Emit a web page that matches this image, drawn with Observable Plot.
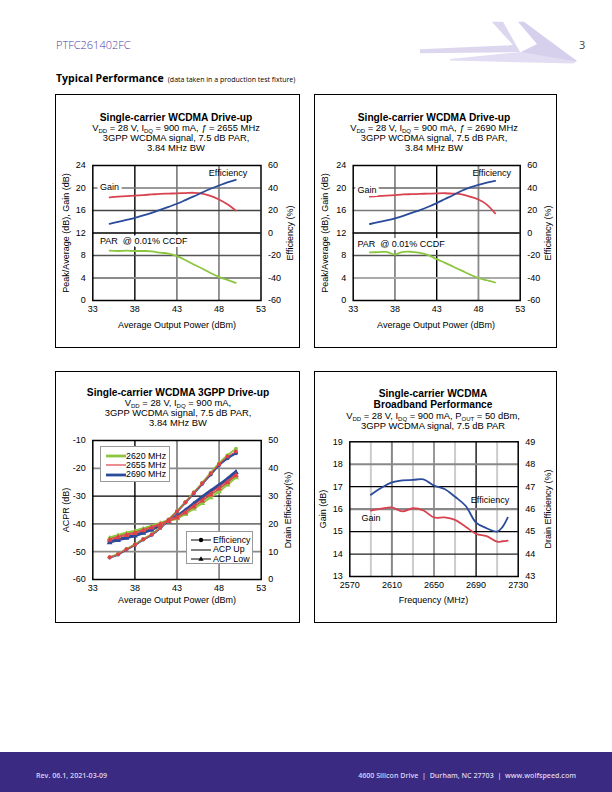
<!DOCTYPE html>
<html><head><meta charset="utf-8">
<script src="https://cdn.jsdelivr.net/npm/d3@7"></script>
<script src="https://cdn.jsdelivr.net/npm/@observablehq/plot@0.6"></script>
<style>
body{margin:0;background:#fff}
#page{position:relative;width:612px;height:792px;overflow:hidden;font-family:"Liberation Sans",Arial,sans-serif;color:#000;background:#fff}
.panel{position:absolute;border:1px solid #000;box-sizing:border-box}
.ttl{position:absolute;text-align:center;font-size:9.4px;line-height:10px;white-space:nowrap;transform:translateX(-50%)}
.ttl b{font-size:10.2px}
.ttl sub{font-size:6px;vertical-align:-1.5px;line-height:0}
.lab{position:absolute;font-size:9px;white-space:nowrap;transform:translate(-50%,-50%)}
.rot{transform:translate(-50%,-50%) rotate(-90deg)}
.leg{position:absolute;border:1px solid #999;background:#fff;font-size:8.8px;box-sizing:border-box}
.leg div{position:absolute;white-space:nowrap}
svg.chart{position:absolute}
</style>
</head><body>
<div id="page"></div>
<script>
// ---------- DATA ----------
// Chart 1: Drive-up, f = 2655 MHz
const c1Pout = [35,36,37,38,39,40,41,42,43,44,45,46,47,48,49,50];
const c1Gain = [18.35,18.45,18.55,18.65,18.75,18.85,18.95,19.0,19.05,19.1,19.15,19.0,18.6,17.95,17.1,16.0];
const c1Eff  = [8.2,9.8,11.6,13.5,15.6,17.9,20.5,23.2,26.0,29.2,32.5,36.0,39.3,42.2,45.0,47.3];
const c1Par  = [8.85,8.8,8.85,8.8,8.8,8.75,8.5,8.35,7.9,7.2,6.4,5.7,4.9,4.2,3.65,3.15];

// Chart 2: Drive-up, f = 2690 MHz
const c2Pout = [35,36,37,38,39,40,41,42,43,44,45,46,47,48,49,50];
const c2Gain = [18.45,18.55,18.65,18.75,18.85,18.9,18.95,19.0,19.05,19.07,19.0,18.85,18.45,17.95,17.05,15.5];
const c2Eff  = [8.0,9.6,11.2,13.0,15.2,17.9,20.4,23.3,26.6,30.2,33.8,37.6,40.5,42.8,44.8,46.3];
const c2ParPout = [35,36,37,38,38.6,39.5,40,41,42,43,44,45,46,47,48,49,50];
const c2Par  = [8.55,8.6,8.65,8.15,8.5,8.7,8.65,8.45,8.05,7.35,6.7,6.0,5.3,4.6,4.0,3.6,3.2];

// Chart 3: 3GPP drive-up, ACPR & drain efficiency
const c3Pout = [35,36,37,38,39,40,41,42,43,44,45,46,47,48,49,50];
const c3Freqs = ["2620 MHz","2655 MHz","2690 MHz"];
const c3Eff2620 = [8.0,9.2,11.0,12.6,14.6,16.3,18.7,21.6,24.6,27.9,31.4,34.8,38.4,41.9,44.7,47.0];
const c3Eff2655 = [8.0,9.1,10.9,12.5,14.5,16.2,18.6,21.5,24.5,27.8,31.2,34.6,38.1,41.5,44.2,46.0];
const c3Eff2690 = [7.9,9.0,10.8,12.4,14.4,16.1,18.5,21.4,24.4,27.7,31.0,34.4,37.8,41.2,43.6,45.4];
const c3AcpUp2620 = [-44.8,-43.9,-43.1,-42.4,-41.5,-40.6,-39.6,-38.6,-37.6,-35.9,-33.9,-31.8,-29.7,-27.6,-25.1,-22.6];
const c3AcpUp2655 = [-45.4,-44.5,-43.7,-43.0,-42.0,-41.0,-39.9,-38.6,-37.3,-35.4,-33.2,-31.0,-28.8,-26.7,-24.4,-22.0];
const c3AcpUp2690 = [-46.3,-45.5,-44.7,-43.9,-42.9,-41.8,-40.3,-38.7,-37.0,-34.8,-32.4,-30.1,-27.9,-25.8,-23.5,-21.0];
const c3AcpLow2620 = [-45.2,-44.3,-43.5,-42.8,-41.9,-41.0,-40.0,-39.0,-38.1,-36.5,-34.6,-32.6,-30.5,-28.4,-25.9,-23.3];
const c3AcpLow2655 = [-45.8,-44.9,-44.1,-43.4,-42.4,-41.4,-40.3,-39.1,-37.8,-36.0,-33.8,-31.7,-29.5,-27.4,-25.1,-22.6];
const c3AcpLow2690 = [-46.7,-45.9,-45.1,-44.3,-43.3,-42.2,-40.7,-39.1,-37.4,-35.3,-32.9,-30.7,-28.5,-26.4,-24.1,-21.5];

// Chart 4: broadband performance
const c4Freq = [2590,2600,2610,2620,2630,2640,2650,2660,2670,2680,2690,2700,2710,2715,2720];
const c4Gain = [15.94,16.02,16.08,15.9,16.04,15.94,15.63,15.63,15.52,15.22,14.9,14.8,14.55,14.57,14.6];
const c4Eff  = [46.64,46.95,47.19,47.28,47.3,47.33,47.05,46.9,46.55,46.15,45.4,45.15,45.0,45.2,45.62];

// Tick values
const driveTicksX = [33,38,43,48,53];
const driveTicksY = [0,4,8,12,16,20,24];
const acprTicksY = [-60,-50,-40,-30,-20,-10];
const bbTicksX = [2570,2610,2650,2690,2730];
const bbTicksY = [13,14,15,16,17,18,19];

// ---------- PAGE ----------
const page = document.getElementById("page");
function el(html){ const t=document.createElement("template"); t.innerHTML=html.trim(); const n=t.content.firstChild; page.appendChild(n); return n; }

// header
el(`<svg style="position:absolute;left:0;top:0" width="612" height="90">
  <polygon points="491.7,21.7 503,21.7 520,52 420,53.3 420,49.3 513,45" fill="#dcd7ef"/>
  <polygon points="518,21.7 524,21.7 577,61 573,62.5 520,52.5 537,44" fill="#d6d0ec"/>
  <polygon points="520,52 577,61.5 573,63.5 450,60.5 450,59" fill="#e2ddf2"/>
</svg>`);
el(`<div style="position:absolute;left:56px;top:38px;line-height:14px;font-family:'Open Sans',sans-serif;font-size:11px;color:#4b3aa5;font-weight:300">PTFC261402FC</div>`);
el(`<div style="position:absolute;left:579px;top:38px;line-height:14px;font-family:'Open Sans',sans-serif;font-size:11px;color:#444">3</div>`);
el(`<div style="position:absolute;left:56px;top:70px;line-height:13px;font-family:'Open Sans',sans-serif;white-space:nowrap"><span style="font-weight:700;font-size:10.5px">Typical Performance</span> <span style="font-size:7px">(data taken in a production test fixture)</span></div>`);

// footer
el(`<div style="position:absolute;left:0;top:752px;width:612px;height:40px;background:#3b2a82"></div>`);
el(`<div style="position:absolute;left:36px;top:770px;line-height:10px;font-family:'Open Sans',sans-serif;font-size:7.1px;font-weight:600;color:#d8d4ec">Rev. 06.1, 2021-03-09</div>`);
el(`<div style="position:absolute;right:36px;top:770px;line-height:10px;font-family:'Open Sans',sans-serif;font-size:7.1px;font-weight:600;color:#d8d4ec;white-space:nowrap">4600 Silicon Drive &nbsp;|&nbsp; Durham, NC 27703 &nbsp;|&nbsp; www.wolfspeed.com</div>`);

// panels
el(`<div class="panel" style="left:55px;top:94px;width:245px;height:254px"></div>`);
el(`<div class="panel" style="left:314px;top:94px;width:243px;height:254px"></div>`);
el(`<div class="panel" style="left:55px;top:371px;width:245px;height:252px"></div>`);
el(`<div class="panel" style="left:314px;top:371px;width:243px;height:252px"></div>`);

// titles
el(`<div class="ttl" style="left:176px;top:113px"><b>Single-carrier WCDMA Drive-up</b><br>V<sub>DD</sub> = 28 V, I<sub>DQ</sub> = 900 mA, <i>ƒ</i> = 2655 MHz<br>3GPP WCDMA signal, 7.5 dB PAR,<br>3.84 MHz BW</div>`);
el(`<div class="ttl" style="left:434px;top:113px"><b>Single-carrier WCDMA Drive-up</b><br>V<sub>DD</sub> = 28 V, I<sub>DQ</sub> = 900 mA, <i>ƒ</i> = 2690 MHz<br>3GPP WCDMA signal, 7.5 dB PAR,<br>3.84 MHz BW</div>`);
el(`<div class="ttl" style="left:178px;top:388px"><b>Single-carrier WCDMA 3GPP Drive-up</b><br>V<sub>DD</sub> = 28 V, I<sub>DQ</sub> = 900 mA,<br>3GPP WCDMA signal, 7.5 dB PAR,<br>3.84 MHz BW</div>`);
el(`<div class="ttl" style="left:433px;top:389px;line-height:10.8px"><b>Single-carrier WCDMA<br>Broadband Performance</b><br>V<sub>DD</sub> = 28 V, I<sub>DQ</sub> = 900 mA, P<sub>OUT</sub> = 50 dBm,<br>3GPP WCDMA signal, 7.5 dB PAR</div>`);

// axis labels
function lab(text,x,y,rot){ el(`<div class="lab${rot?" rot":""}" style="left:${x}px;top:${y}px">${text}</div>`); }
lab("Average Output Power (dBm)",177,324.5);
lab("Peak/Average (dB), Gain (dB)",65.7,232.5,true);
lab("Efficiency (%)",290,232.5,true);
lab("Average Output Power (dBm)",436,324.5);
lab("Peak/Average (dB), Gain (dB)",325.3,232.5,true);
lab("Efficiency (%)",547.7,232.5,true);
lab("Average Output Power (dBm)",177,600);
lab("ACPR (dB)",65.7,509.5,true);
lab("Drain Efficiency(%)",288,509.5,true);
lab("Frequency (MHz)",433.5,599.5);
lab("Gain (dB)",322.7,508.7,true);
lab("Drain Efficiency (%)",547.7,508.7,true);

// ---------- CHARTS ----------
const FONT = '"Liberation Sans", Arial, sans-serif';
function gridMarks(gx, gy){
  const m=[];
  for (const g of gx) m.push(Plot.ruleX([g[0]],{stroke:g[1],strokeWidth:g[2]}));
  for (const g of gy) m.push(Plot.ruleY([g[0]],{stroke:g[1],strokeWidth:g[2]}));
  return m;
}
function makeChart(cfg){
  const toY = d3.scaleLinear().domain(cfg.y2Domain).range(cfg.yDomain);
  const marks = [
    ...gridMarks(cfg.gridX, cfg.gridY),
    ...cfg.series(toY),
    Plot.frame({stroke:"#000", strokeWidth:1.5}),
    Plot.axisX({ticks:cfg.xTicks, tickSize:0, tickPadding:5, label:null, tickFormat:d=>String(d)}),
    Plot.axisY({anchor:"left", ticks:cfg.yTicks, tickSize:0, tickPadding:7, label:null, tickFormat:d=>String(d)}),
    Plot.axisY({anchor:"right", ticks:cfg.yTicks, tickSize:0, tickPadding:7, label:null, tickFormat:d=>String(Math.round(toY.invert(d)))})
  ];
  const svg = Plot.plot({
    width:cfg.w, height:cfg.h,
    marginLeft:cfg.m[0], marginRight:cfg.m[1], marginTop:cfg.m[2], marginBottom:cfg.m[3],
    x:{domain:cfg.xDomain}, y:{domain:cfg.yDomain},
    style:{fontFamily:FONT, fontSize:"9px", color:"#000", background:"transparent", overflow:"visible"},
    marks
  });
  svg.classList.add("chart");
  svg.style.left = cfg.left+"px"; svg.style.top = cfg.top+"px";
  page.appendChild(svg);
}
const RED="#d8434f", BLUE="#2a4b9b", GREEN="#8cc63f";
const note = (data, opts={}) => Plot.text(data,{x:"x",y:"y",text:"t",textAnchor:"start",fill:"#000",fontSize:9,stroke:"white",strokeWidth:opts.halo||0,paintOrder:"stroke"});

// Chart 1
const d1 = c1Pout.map((x,i)=>({x, gain:c1Gain[i], eff:c1Eff[i], par:c1Par[i]}));
makeChart({
  left:55, top:158, w:245, h:180, m:[37.3,39.5,7,38],
  xDomain:[33,53], yDomain:[0,24], y2Domain:[-60,60], xTicks:driveTicksX, yTicks:driveTicksY,
  gridX:[[38,"#000",1.4],[43,"#777",1.6],[48,"#8a8a8a",1.8]],
  gridY:[[4,"#8a8a8a",2],[8,"#555",1.6],[12,"#000",1.4],[16,"#444",1.5],[20,"#777",1.6]],
  series:(toY)=>[
    Plot.line(d1,{x:"x",y:"par",stroke:GREEN,strokeWidth:1.8,curve:"catmull-rom"}),
    Plot.line(d1,{x:"x",y:"gain",stroke:RED,strokeWidth:1.8,curve:"catmull-rom"}),
    Plot.line(d1,{x:"x",y:d=>toY(d.eff),stroke:BLUE,strokeWidth:1.8,curve:"catmull-rom"}),
    note([{x:33.85,y:20.1,t:"Gain"}],{halo:6}),
    note([{x:46.8,y:22.6,t:"Efficiency"}]),
    note([{x:33.85,y:10.5,t:"PAR\u00a0 @ 0.01% CCDF"}],{halo:6})
  ]
});

// Chart 2
const d2 = c2Pout.map((x,i)=>({x, gain:c2Gain[i], eff:c2Eff[i]}));
const d2p = c2ParPout.map((x,i)=>({x, par:c2Par[i]}));
makeChart({
  left:314, top:158, w:243, h:180, m:[38.7,37.3,7,38],
  xDomain:[33,53], yDomain:[0,24], y2Domain:[-60,60], xTicks:driveTicksX, yTicks:driveTicksY,
  gridX:[[38,"#777",1.6],[43,"#000",1.4],[48,"#8a8a8a",1.8]],
  gridY:[[4,"#aaa",2],[8,"#555",1.6],[12,"#000",1.4],[16,"#777",1.6],[20,"#666",1.6]],
  series:(toY)=>[
    Plot.line(d2p,{x:"x",y:"par",stroke:GREEN,strokeWidth:1.8,curve:"catmull-rom"}),
    Plot.line(d2,{x:"x",y:"gain",stroke:RED,strokeWidth:1.8,curve:"catmull-rom"}),
    Plot.line(d2,{x:"x",y:d=>toY(d.eff),stroke:BLUE,strokeWidth:1.8,curve:"catmull-rom"}),
    note([{x:33.5,y:19.7,t:"Gain"}],{halo:6}),
    note([{x:47.3,y:22.7,t:"Efficiency"}]),
    note([{x:33.5,y:10.05,t:"PAR\u00a0 @ 0.01% CCDF"}],{halo:6})
  ]
});

// Chart 3
const c3Sets = [
  {f:c3Freqs[2], eff:c3Eff2690, up:c3AcpUp2690, low:c3AcpLow2690, c:BLUE, w:2.2},
  {f:c3Freqs[0], eff:c3Eff2620, up:c3AcpUp2620, low:c3AcpLow2620, c:GREEN, w:1.8},
  {f:c3Freqs[1], eff:c3Eff2655, up:c3AcpUp2655, low:c3AcpLow2655, c:"#e0404a", w:1.1}
];
makeChart({
  left:55, top:433, w:245, h:180, m:[37.3,39.3,7,34],
  xDomain:[33,53], yDomain:[-60,-10], y2Domain:[0,50], xTicks:driveTicksX, yTicks:acprTicksY,
  gridX:[[38,"#000",1.4],[43,"#777",1.6],[48,"#8a8a8a",1.8]],
  gridY:[[-50,"#8a8a8a",1.8],[-40,"#777",1.6],[-30,"#000",1.4],[-20,"#8a8a8a",1.8]],
  series:(toY)=>c3Sets.flatMap(s=>{
    const d = c3Pout.map((x,i)=>({x, eff:toY(s.eff[i]), up:s.up[i], low:s.low[i]}));
    return [
      Plot.line(d,{x:"x",y:"eff",stroke:s.c,strokeWidth:s.w,curve:"catmull-rom"}),
      Plot.dot(d,{x:"x",y:"eff",fill:s.c,r:2}),
      Plot.line(d,{x:"x",y:"up",stroke:s.c,strokeWidth:s.w,curve:"catmull-rom"}),
      Plot.line(d,{x:"x",y:"low",stroke:s.c,strokeWidth:s.w,curve:"catmull-rom"}),
      Plot.dot(d,{x:"x",y:"low",fill:s.c,symbol:"triangle",r:2.2})
    ];
  })
});

// Chart 4
const d4 = c4Freq.map((x,i)=>({x, gain:c4Gain[i], eff:c4Eff[i]}));
makeChart({
  left:314, top:434, w:243, h:180, m:[35.3,39.3,7.3,38],
  xDomain:[2570,2730], yDomain:[13,19], y2Domain:[43,49], xTicks:bbTicksX, yTicks:bbTicksY,
  gridX:[[2590,"#ccc",2],[2610,"#888",2],[2630,"#ccc",2],[2650,"#999",2],[2670,"#ccc",2],[2690,"#000",1.3],[2710,"#ccc",2]],
  gridY:[[14,"#222",1.2],[15,"#000",1.2],[16,"#888",2.2],[17,"#000",1.2],[18,"#888",2.2]],
  series:(toY)=>[
    Plot.line(d4,{x:"x",y:"gain",stroke:RED,strokeWidth:1.8,curve:"catmull-rom"}),
    Plot.line(d4,{x:"x",y:d=>toY(d.eff),stroke:BLUE,strokeWidth:1.8,curve:"catmull-rom"}),
    note([{x:2685,y:16.42,t:"Efficiency"}]),
    note([{x:2581,y:15.6,t:"Gain"}])
  ]
});

// Chart 3 legends
function sw(color,w,sym){
  let m="";
  if(sym==="circle") m=`<circle cx="10" cy="4" r="2.2" fill="${color}"/>`;
  if(sym==="tri") m=`<path d="M10,1.3 L12.6,5.8 L7.4,5.8Z" fill="${color}"/>`;
  return `<svg width="20" height="8" style="position:absolute;left:0;top:0"><line x1="0" y1="4" x2="20" y2="4" stroke="${color}" stroke-width="${w}"/>${m}</svg>`;
}
const leg1 = el(`<div class="leg" style="left:100px;top:446px;width:70px;height:36px"></div>`);
[[c3Freqs[0],GREEN,2.8],[c3Freqs[1],"#e0404a",1.2],[c3Freqs[2],BLUE,2.8]].forEach((e,i)=>{
  const d=document.createElement("div");
  d.style.left="5px"; d.style.top=(5+i*9.3)+"px"; d.style.height="9px";
  d.innerHTML = `<div style="position:absolute;left:0;top:0">${sw(e[1],e[2])}</div><div style="position:absolute;left:20px;top:-1.5px">${e[0]}</div>`;
  leg1.appendChild(d);
});
const leg2 = el(`<div class="leg" style="left:186px;top:531px;width:67px;height:33px"></div>`);
[["Efficiency","circle"],["ACP Up",""],["ACP Low","tri"]].forEach((e,i)=>{
  const d=document.createElement("div");
  d.style.left="4px"; d.style.top=(4+i*9.6)+"px"; d.style.height="9px";
  d.innerHTML = `<div style="position:absolute;left:0;top:0">${sw("#000",1,e[1])}</div><div style="position:absolute;left:22px;top:-1.5px">${e[0]}</div>`;
  leg2.appendChild(d);
});
</script>
</body></html>
